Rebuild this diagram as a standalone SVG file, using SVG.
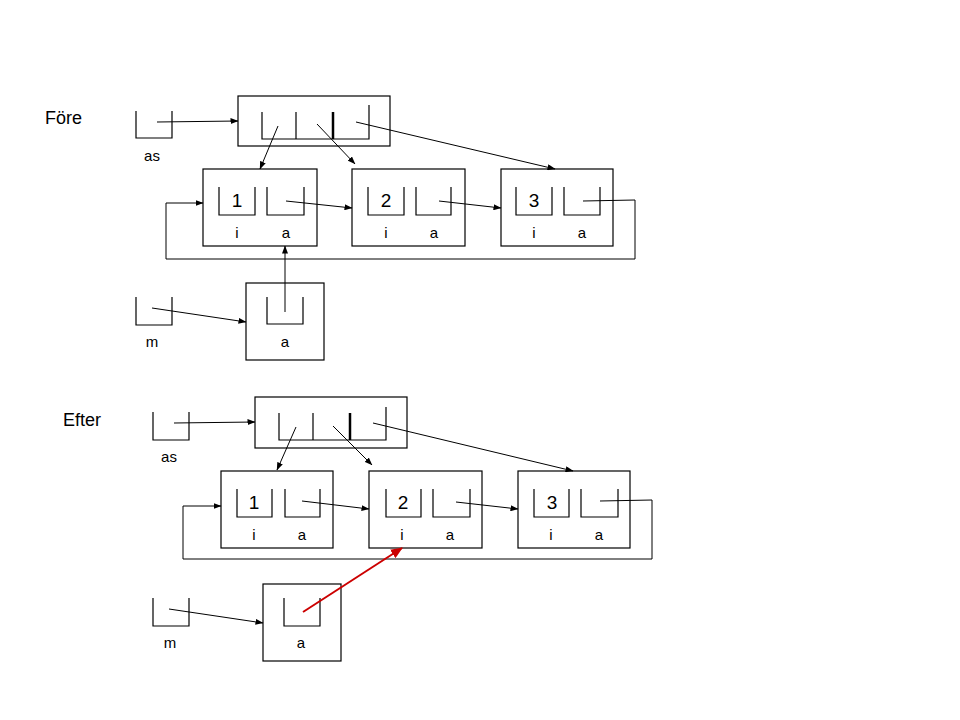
<svg xmlns="http://www.w3.org/2000/svg" width="960" height="720" viewBox="0 0 960 720">
<defs>
<marker id="ah" markerUnits="userSpaceOnUse" markerWidth="8" markerHeight="6" refX="7.5" refY="3" orient="auto">
<path d="M0,0 L8,3 L0,6 Z" fill="#000"/>
</marker>
<marker id="ahr" markerUnits="userSpaceOnUse" markerWidth="12" markerHeight="10" refX="11" refY="5" orient="auto">
<path d="M0,0 L12,5 L0,10 Z" fill="#cc0000"/>
</marker>
</defs>
<style>
.box{fill:#fff;stroke:#000;stroke-width:1.2}
.cup{fill:none;stroke:#000;stroke-width:1.2}
.thick{stroke:#000;stroke-width:2.5}
.ln{fill:none;stroke:#000;stroke-width:1}
.ar{fill:none;stroke:#000;stroke-width:1;marker-end:url(#ah)}
.red{fill:none;stroke:#cc0000;stroke-width:2;marker-end:url(#ahr)}
text{font-family:"Liberation Sans",Arial,sans-serif;fill:#000}
.title{font-size:18px}
.lbl{font-size:15px;text-anchor:middle}
.num{font-size:19px;text-anchor:middle}
</style>
<rect width="960" height="720" fill="#fff"/>

<!-- ===== Före ===== -->
<text class="title" x="45" y="124">Före</text>

<g id="var-as-1">
<path class="cup" d="M136,111 V138 H172 V111"/>
<text class="lbl" x="152" y="161">as</text>
</g>
<g id="array-1">
<rect class="box" x="238" y="96" width="152" height="50"/>
<path class="cup" d="M262,112 V139 H369 V105 M296,112 V139"/>
<path class="thick" d="M333,112 V139"/>
</g>
<g id="node1-1">
<rect class="box" x="203" y="169" width="114" height="77"/>
<path class="cup" d="M219,187 V215 H255 V187 M267,187 V215 H304 V187"/>
<text class="num" x="237" y="207">1</text>
<text class="lbl" x="237" y="238">i</text>
<text class="lbl" x="286" y="238">a</text>
</g>
<g id="node2-1">
<rect class="box" x="352" y="169" width="113" height="77"/>
<path class="cup" d="M368,187 V215 H404 V187 M416,187 V215 H451 V187"/>
<text class="num" x="386" y="207">2</text>
<text class="lbl" x="386" y="238">i</text>
<text class="lbl" x="434" y="238">a</text>
</g>
<g id="node3-1">
<rect class="box" x="501" y="169" width="112" height="77"/>
<path class="cup" d="M516,187 V215 H552 V187 M564,187 V215 H600 V187"/>
<text class="num" x="534" y="207">3</text>
<text class="lbl" x="534" y="238">i</text>
<text class="lbl" x="582" y="238">a</text>
</g>
<g id="var-m-1">
<path class="cup" d="M136,297 V325 H172 V297"/>
<text class="lbl" x="152" y="347">m</text>
</g>
<g id="mbox-1">
<rect class="box" x="246" y="283" width="78" height="77"/>
<path class="cup" d="M267,297 V324 H303 V297"/>
<text class="lbl" x="285" y="347">a</text>
</g>

<!-- ===== Efter ===== -->
<text class="title" x="63" y="426">Efter</text>

<g id="var-as-2">
<path class="cup" d="M153,412 V440 H189 V412"/>
<text class="lbl" x="169" y="462">as</text>
</g>
<g id="array-2">
<rect class="box" x="255" y="397" width="152" height="51"/>
<path class="cup" d="M279,413 V440 H386 V407 M313,413 V440"/>
<path class="thick" d="M350,413 V440"/>
</g>
<g id="node1-2">
<rect class="box" x="221" y="471" width="112" height="77"/>
<path class="cup" d="M237,489 V517 H272 V489 M285,489 V517 H320 V489"/>
<text class="num" x="254" y="509">1</text>
<text class="lbl" x="254" y="540">i</text>
<text class="lbl" x="302" y="540">a</text>
</g>
<g id="node2-2">
<rect class="box" x="369" y="471" width="113" height="77"/>
<path class="cup" d="M386,489 V517 H421 V489 M433,489 V517 H470 V489"/>
<text class="num" x="403" y="509">2</text>
<text class="lbl" x="402" y="540">i</text>
<text class="lbl" x="450" y="540">a</text>
</g>
<g id="node3-2">
<rect class="box" x="518" y="471" width="112" height="77"/>
<path class="cup" d="M534,489 V517 H569 V489 M581,489 V517 H618 V489"/>
<text class="num" x="552" y="509">3</text>
<text class="lbl" x="551" y="540">i</text>
<text class="lbl" x="599" y="540">a</text>
</g>
<g id="var-m-2">
<path class="cup" d="M153,598 V626 H189 V598"/>
<text class="lbl" x="170" y="648">m</text>
</g>
<g id="mbox-2">
<rect class="box" x="263" y="584" width="78" height="77"/>
<path class="cup" d="M284,598 V626 H320 V598"/>
<text class="lbl" x="301" y="648">a</text>
</g>

<!-- ===== Connectors ===== -->
<g id="connectors">
<path class="ar" d="M157,122 L238,121"/>
<path class="ar" d="M278,126 L260,169"/>
<path class="ar" d="M317,124 L355,164"/>
<path class="ar" d="M356,122 L555,169"/>
<path class="ar" d="M286,201 L352,208"/>
<path class="ar" d="M439,201 L501,208"/>
<path class="ar" d="M583,201 L635,200 V259 H166 V203 H203"/>
<path class="ar" d="M152,308 L246,322"/>
<path class="ar" d="M285,312 L285,246"/>

<path class="ar" d="M174,423 L255,422"/>
<path class="ar" d="M296,427 L277,470"/>
<path class="ar" d="M333,426 L372,465"/>
<path class="ar" d="M373,423 L573,471"/>
<path class="ar" d="M302,501 L369,509"/>
<path class="ar" d="M456,502 L518,509"/>
<path class="ar" d="M600,501 L652,500 V559 H183 V506 H221"/>
<path class="ar" d="M169,609 L263,623"/>
<path class="red" d="M303,612 L402,548"/>
</g>
</svg>
